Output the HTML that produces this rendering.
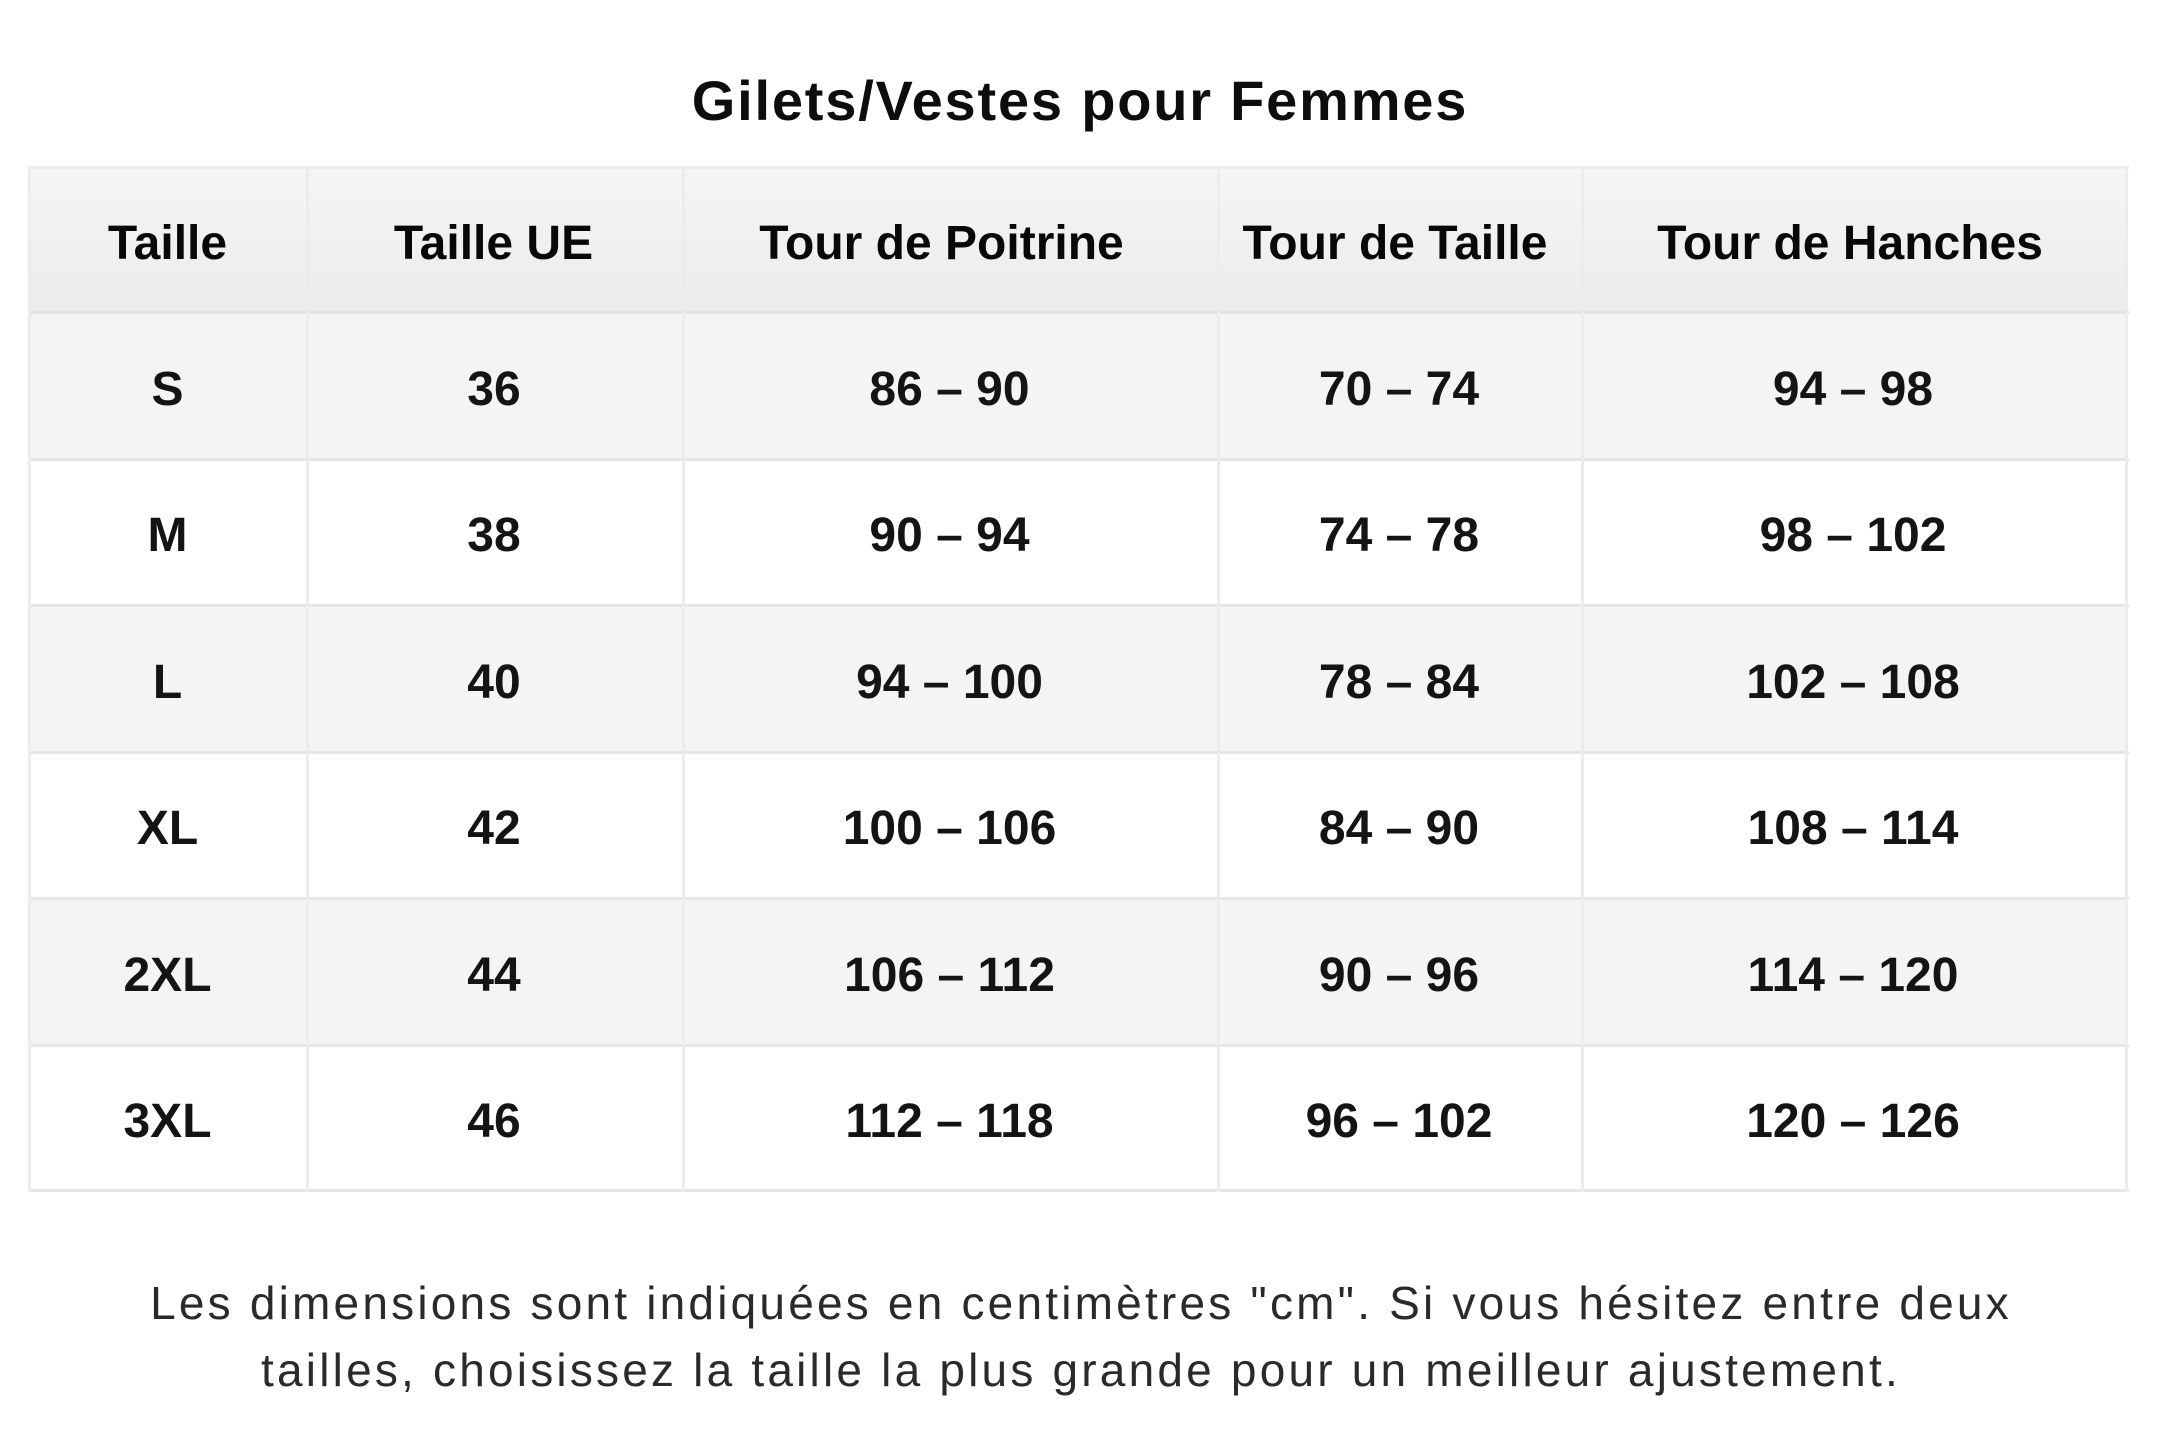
<!DOCTYPE html>
<html>
<head>
<meta charset="utf-8">
<style>
  html, body { margin: 0; padding: 0; }
  body { width: 2160px; height: 1440px; background: #ffffff; position: relative; overflow: hidden;
         font-family: "Liberation Sans", "DejaVu Sans", sans-serif; }
  .title { position: absolute; left: 0; top: 51px; width: 2160px; height: 100px; line-height: 100px;
           text-align: center; font-weight: bold; font-size: 56px; letter-spacing: 1.8px; color: #0d0d0d; }
  .bg { position: absolute; }
  .hl { position: absolute; height: 3px; background: #e6e6e6; }
  .vl { position: absolute; width: 3px; background: #ececec; }
  .cell { position: absolute; text-align: center; font-weight: bold; font-size: 48px; color: #141414; }
  .hdr { color: #080808; }
  .foot { position: absolute; left: 0; top: 1270px; width: 2162px; text-align: center;
          font-size: 46px; line-height: 67px; letter-spacing: 3.2px; color: #2a2a2a; }
</style>
</head>
<body>
<div class="title">Gilets/Vestes pour Femmes</div>

<!-- backgrounds -->
<div class="bg" style="left:29px;top:167px;width:2098px;height:145px;background:linear-gradient(#f5f5f5,#ececec);"></div>
<div class="bg" style="left:29px;top:312px;width:2098px;height:147px;background:#f4f4f4;"></div>
<div class="bg" style="left:29px;top:459px;width:2098px;height:146px;background:#ffffff;"></div>
<div class="bg" style="left:29px;top:605px;width:2098px;height:147px;background:#f4f4f4;"></div>
<div class="bg" style="left:29px;top:752px;width:2098px;height:146px;background:#ffffff;"></div>
<div class="bg" style="left:29px;top:898px;width:2098px;height:147px;background:#f4f4f4;"></div>
<div class="bg" style="left:29px;top:1045px;width:2098px;height:146px;background:#ffffff;"></div>

<!-- horizontal lines -->
<div class="hl" style="left:28px;top:166px;width:2101px;background:#ececec;"></div>
<div class="hl" style="left:28px;top:311px;width:2101px;background:#e2e2e2;"></div>
<div class="hl" style="left:28px;top:458px;width:2101px;"></div>
<div class="hl" style="left:28px;top:604px;width:2101px;"></div>
<div class="hl" style="left:28px;top:751px;width:2101px;"></div>
<div class="hl" style="left:28px;top:897px;width:2101px;"></div>
<div class="hl" style="left:28px;top:1044px;width:2101px;"></div>
<div class="hl" style="left:28px;top:1189px;width:2101px;"></div>

<!-- vertical lines -->
<div class="vl" style="left:28px;top:166px;height:1026px;"></div>
<div class="vl" style="left:306px;top:166px;height:1026px;"></div>
<div class="vl" style="left:682px;top:166px;height:1026px;"></div>
<div class="vl" style="left:1217px;top:166px;height:1026px;"></div>
<div class="vl" style="left:1581px;top:166px;height:1026px;"></div>
<div class="vl" style="left:2125px;top:166px;height:1026px;"></div>

<!-- header -->
<div class="cell hdr" style="left:29px;width:277px;top:171px;height:145px;line-height:145px;">Taille</div>
<div class="cell hdr" style="left:305px;width:377px;top:171px;height:145px;line-height:145px;">Taille UE</div>
<div class="cell hdr" style="left:674px;width:535px;top:171px;height:145px;line-height:145px;">Tour de Poitrine</div>
<div class="cell hdr" style="left:1213px;width:364px;top:171px;height:145px;line-height:145px;">Tour de Taille</div>
<div class="cell hdr" style="left:1578px;width:544px;top:171px;height:145px;line-height:145px;">Tour de Hanches</div>

<!-- row S -->
<div class="cell" style="left:29px;width:277px;top:316px;height:147px;line-height:147px;">S</div>
<div class="cell" style="left:306px;width:376px;top:316px;height:147px;line-height:147px;">36</div>
<div class="cell" style="left:682px;width:535px;top:316px;height:147px;line-height:147px;">86 – 90</div>
<div class="cell" style="left:1217px;width:364px;top:316px;height:147px;line-height:147px;">70 – 74</div>
<div class="cell" style="left:1581px;width:544px;top:316px;height:147px;line-height:147px;">94 – 98</div>

<!-- row M -->
<div class="cell" style="left:29px;width:277px;top:463px;height:146px;line-height:146px;">M</div>
<div class="cell" style="left:306px;width:376px;top:463px;height:146px;line-height:146px;">38</div>
<div class="cell" style="left:682px;width:535px;top:463px;height:146px;line-height:146px;">90 – 94</div>
<div class="cell" style="left:1217px;width:364px;top:463px;height:146px;line-height:146px;">74 – 78</div>
<div class="cell" style="left:1581px;width:544px;top:463px;height:146px;line-height:146px;">98 – 102</div>

<!-- row L -->
<div class="cell" style="left:29px;width:277px;top:609px;height:147px;line-height:147px;">L</div>
<div class="cell" style="left:306px;width:376px;top:609px;height:147px;line-height:147px;">40</div>
<div class="cell" style="left:682px;width:535px;top:609px;height:147px;line-height:147px;">94 – 100</div>
<div class="cell" style="left:1217px;width:364px;top:609px;height:147px;line-height:147px;">78 – 84</div>
<div class="cell" style="left:1581px;width:544px;top:609px;height:147px;line-height:147px;">102 – 108</div>

<!-- row XL -->
<div class="cell" style="left:29px;width:277px;top:756px;height:146px;line-height:146px;">XL</div>
<div class="cell" style="left:306px;width:376px;top:756px;height:146px;line-height:146px;">42</div>
<div class="cell" style="left:682px;width:535px;top:756px;height:146px;line-height:146px;">100 – 106</div>
<div class="cell" style="left:1217px;width:364px;top:756px;height:146px;line-height:146px;">84 – 90</div>
<div class="cell" style="left:1581px;width:544px;top:756px;height:146px;line-height:146px;">108 – 114</div>

<!-- row 2XL -->
<div class="cell" style="left:29px;width:277px;top:902px;height:147px;line-height:147px;">2XL</div>
<div class="cell" style="left:306px;width:376px;top:902px;height:147px;line-height:147px;">44</div>
<div class="cell" style="left:682px;width:535px;top:902px;height:147px;line-height:147px;">106 – 112</div>
<div class="cell" style="left:1217px;width:364px;top:902px;height:147px;line-height:147px;">90 – 96</div>
<div class="cell" style="left:1581px;width:544px;top:902px;height:147px;line-height:147px;">114 – 120</div>

<!-- row 3XL -->
<div class="cell" style="left:29px;width:277px;top:1049px;height:146px;line-height:146px;">3XL</div>
<div class="cell" style="left:306px;width:376px;top:1049px;height:146px;line-height:146px;">46</div>
<div class="cell" style="left:682px;width:535px;top:1049px;height:146px;line-height:146px;">112 – 118</div>
<div class="cell" style="left:1217px;width:364px;top:1049px;height:146px;line-height:146px;">96 – 102</div>
<div class="cell" style="left:1581px;width:544px;top:1049px;height:146px;line-height:146px;">120 – 126</div>

<div class="foot">Les dimensions sont indiquées en centimètres "cm". Si vous hésitez entre deux<br>tailles, choisissez la taille la plus grande pour un meilleur ajustement.</div>
</body>
</html>
